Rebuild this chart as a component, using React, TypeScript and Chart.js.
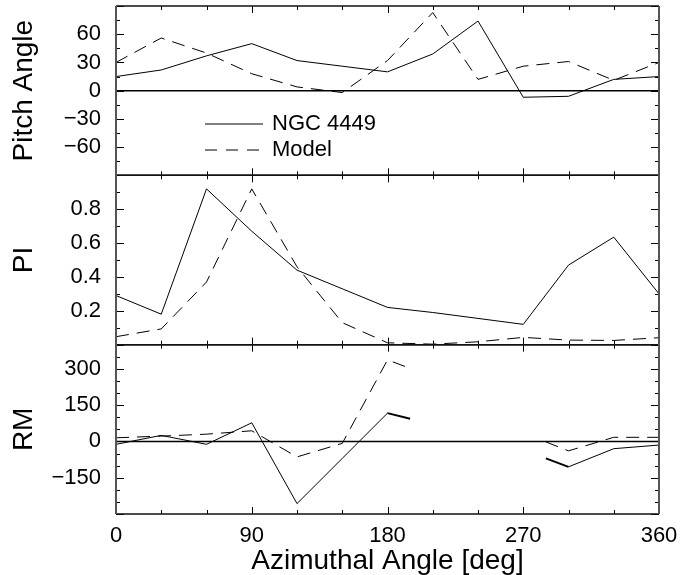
import React, { useEffect, useRef } from 'react';
import { Chart, registerables } from 'chart.js';

Chart.register(...registerables);

const FONT = "'Liberation Sans', Arial, Helvetica, sans-serif";

// Azimuthal angles (deg)
const angles = [0, 30, 60, 90, 120, 150, 180, 210, 240, 270, 300, 330, 360];
// Pitch angle panel
const pitchObs = [15, 22, 37, 50, 32, 26, 20, 39, 74, -7, -6, 12, 15];
const pitchModel = [30, 56, 40, 18, 4, -2, 32, 83, 12, 26, 31, 11, 30];
// Polarized intensity panel
const piObs = [0.29, 0.18, 0.92, 0.67, 0.44, 0.33, 0.22, 0.19, 0.155, 0.12, 0.47, 0.635, 0.3];
const piModel = [0.047, 0.093, 0.37, 0.92, 0.46, 0.13, 0.011, 0.003, 0.017, 0.043, 0.027, 0.025, 0.041];
// RM panel (gap between 195 and 285)
const rmAngles = [0, 30, 60, 90, 120, 150, 180, 195, 240, 285, 300, 330, 360];
const rmObs = [-12, 25, -12, 77, -257, -70, 117, 94, null, -70, -105, -30, -15];
const rmModel = [15, 22, 30, 44, -64, -8, 337, 302, null, -2, -39, 17, 17];

const xTickLabels = [0, 90, 180, 270, 360];

const pts = (xs: number[], ys: (number | null)[]) => xs.map((x, i) => ({ x, y: ys[i] }));
const minus = (s: string) => s.replace('-', '\u2212');

const DASH = [13, 8];

const panelDecor = {
  id: 'panelDecor',
  afterDraw(chart: any) {
    const ctx = chart.ctx;
    const ca = chart.chartArea;
    const xs = chart.scales.x;
    const panels = [
      { id: 'yPitch', minor: 15, major: 30, zero: true },
      { id: 'yPI', minor: 0.1, major: 0.2, zero: false },
      { id: 'yRM', minor: 50, major: 150, zero: true },
    ];
    ctx.save();
    for (const p of panels) {
      const s = chart.scales[p.id];
      const top = s.top, bottom = s.bottom;
      if (p.zero) {
        const y0 = s.getPixelForValue(0);
        ctx.strokeStyle = '#000';
        ctx.lineWidth = 1.5;
        ctx.beginPath();
        ctx.moveTo(ca.left, y0);
        ctx.lineTo(ca.right, y0);
        ctx.stroke();
      }
      ctx.strokeStyle = '#000';
      ctx.lineWidth = 1;
      const n = Math.round((s.max - s.min) / p.minor);
      for (let i = 0; i <= n; i++) {
        const v = s.min + i * p.minor;
        const isMajor = Math.abs(v / p.major - Math.round(v / p.major)) < 1e-6;
        const len = isMajor ? 8 : 4;
        const y = Math.round(s.getPixelForValue(v)) + 0.5;
        ctx.beginPath();
        ctx.moveTo(ca.left, y);
        ctx.lineTo(ca.left + len, y);
        ctx.moveTo(ca.right, y);
        ctx.lineTo(ca.right - len, y);
        ctx.stroke();
      }
      for (let a = 0; a <= 360; a += 30) {
        const len = a % 90 === 0 ? 7 : 4;
        const x = Math.round(xs.getPixelForValue(a)) + 0.5;
        ctx.beginPath();
        ctx.moveTo(x, top);
        ctx.lineTo(x, top + len);
        ctx.moveTo(x, bottom);
        ctx.lineTo(x, bottom - len);
        ctx.stroke();
      }
      ctx.strokeStyle = '#111';
      ctx.lineWidth = 1.5;
      ctx.beginPath();
      ctx.moveTo(ca.left, top);
      ctx.lineTo(ca.right, top);
      ctx.moveTo(ca.left, bottom);
      ctx.lineTo(ca.right, bottom);
      ctx.stroke();
    }
    ctx.strokeStyle = '#555';
    ctx.lineWidth = 2;
    ctx.beginPath();
    ctx.moveTo(ca.left, ca.top);
    ctx.lineTo(ca.left, ca.bottom);
    ctx.moveTo(ca.right, ca.top);
    ctx.lineTo(ca.right, ca.bottom);
    ctx.stroke();

    // legend inside top panel
    const lx0 = ca.left + 89, lx1 = ca.left + 147, tx = ca.left + 156;
    const ly1 = ca.top + 118, ly2 = ca.top + 144;
    ctx.strokeStyle = '#000';
    ctx.lineWidth = 1;
    ctx.beginPath();
    ctx.moveTo(lx0, ly1);
    ctx.lineTo(lx1, ly1);
    ctx.stroke();
    ctx.setLineDash([12, 9]);
    ctx.beginPath();
    ctx.moveTo(lx0, ly2);
    ctx.lineTo(lx1, ly2);
    ctx.stroke();
    ctx.setLineDash([]);
    ctx.fillStyle = '#000';
    ctx.font = `22px ${FONT}`;
    ctx.textBaseline = 'middle';
    ctx.textAlign = 'left';
    ctx.fillText('NGC 4449', tx, ly1);
    ctx.fillText('Model', tx, ly2);
    ctx.restore();
  },
};

const yCommon = (title: string) => ({
  type: 'linear' as const,
  position: 'left' as const,
  stack: 'panels',
  stackWeight: 1,
  grid: { display: false, drawTicks: false },
  border: { display: false },
  title: {
    display: true,
    text: title,
    color: '#000',
    font: { family: FONT, size: 28 },
    padding: { top: 7, bottom: 0 },
  },
  afterFit: (s: any) => {
    s.width = 116;
    s.paddingTop = 0;
    s.paddingBottom = 0;
  },
});

export default function App() {
  const ref = useRef<HTMLCanvasElement | null>(null);
  useEffect(() => {
    if (!ref.current) return;
    const tickFont = { family: FONT, size: 22 };
    const chart = new Chart(ref.current, {
      type: 'line',
      data: {
        datasets: [
          { label: 'NGC 4449', data: pts(angles, pitchObs), yAxisID: 'yPitch', borderColor: '#000', borderWidth: 1, pointRadius: 0 },
          { label: 'Model', data: pts(angles, pitchModel), yAxisID: 'yPitch', borderColor: '#000', borderWidth: 1, borderDash: DASH, pointRadius: 0 },
          { label: 'NGC 4449 PI', data: pts(angles, piObs), yAxisID: 'yPI', borderColor: '#000', borderWidth: 1, pointRadius: 0 },
          { label: 'Model PI', data: pts(angles, piModel), yAxisID: 'yPI', borderColor: '#000', borderWidth: 1, borderDash: DASH, pointRadius: 0 },
          {
            label: 'NGC 4449 RM',
            data: pts(rmAngles, rmObs),
            yAxisID: 'yRM',
            borderColor: '#000',
            borderWidth: 1,
            pointRadius: 0,
            spanGaps: false,
            segment: {
              borderWidth: (c: any) =>
                (c.p0.parsed.x === 180 && c.p1.parsed.x === 195) || (c.p0.parsed.x === 285 && c.p1.parsed.x === 300) ? 2 : 1,
            },
          },
          { label: 'Model RM', data: pts(rmAngles, rmModel), yAxisID: 'yRM', borderColor: '#000', borderWidth: 1, borderDash: DASH, pointRadius: 0, spanGaps: false },
        ],
      },
      options: {
        animation: false,
        responsive: false,
        devicePixelRatio: 1,
        layout: { padding: { top: 6, right: 33, bottom: 0, left: 0 } },
        plugins: { legend: { display: false }, tooltip: { enabled: false } },
        scales: {
          x: {
            type: 'linear',
            position: 'bottom',
            min: 0,
            max: 360,
            afterBuildTicks: (s: any) => {
              s.ticks = xTickLabels.map((v) => ({ value: v }));
            },
            ticks: { font: tickFont, color: '#000', padding: 9, maxRotation: 0, autoSkip: false, callback: (v: any) => String(v) },
            grid: { display: false, drawTicks: false },
            border: { display: false },
            title: { display: true, text: 'Azimuthal Angle [deg]', color: '#000', font: { family: FONT, size: 28 }, padding: { top: 0, bottom: -3 } },
            afterFit: (s: any) => {
              s.height = 61;
              s.paddingLeft = 0;
              s.paddingRight = 0;
            },
          },
          yRM: {
            ...yCommon('RM'),
            min: -300,
            max: 400,
            ticks: {
              stepSize: 150,
              includeBounds: false,
              font: tickFont,
              color: '#000',
              padding: 15,
              autoSkip: false,
              callback: (v: any) => (v <= -300 || v >= 400 ? '' : minus(String(v))),
            },
          },
          yPI: {
            ...yCommon('PI'),
            min: 0,
            max: 1,
            ticks: {
              stepSize: 0.2,
              includeBounds: false,
              font: tickFont,
              color: '#000',
              padding: 15,
              autoSkip: false,
              callback: (v: any) => (v < 0.05 || v > 0.95 ? '' : Number(v).toFixed(1)),
            },
          },
          yPitch: {
            ...yCommon('Pitch Angle'),
            min: -90,
            max: 90,
            ticks: {
              stepSize: 30,
              includeBounds: false,
              font: tickFont,
              color: '#000',
              padding: 15,
              autoSkip: false,
              callback: (v: any) => (Math.abs(v) >= 90 ? '' : minus(String(v))),
            },
          },
        } as any,
      },
      plugins: [panelDecor],
    });
    return () => chart.destroy();
  }, []);
  return (
    <canvas
      ref={ref}
      width={692}
      height={575}
      style={{ position: 'absolute', left: 0, top: 0, width: 692, height: 575, background: '#fff' }}
    />
  );
}
